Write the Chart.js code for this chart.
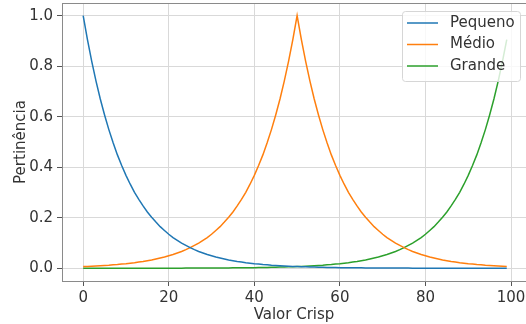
<!DOCTYPE html>
<html>
<head>
<meta charset="utf-8">
<script src="https://cdn.jsdelivr.net/npm/chart.js@4"></script>
<style>
  html, body { margin: 0; padding: 0; background: #fff; }
  #wrap { width: 526px; height: 324px; }
</style>
</head>
<body>
<div id="wrap"><canvas id="myChart" width="526" height="324"></canvas></div>
<script>
// valores crisp (eixo x)
var valores = [0,1,2,3,4,5,6,7,8,9,10,11,12,13,14,15,16,17,18,19,
  20,21,22,23,24,25,26,27,28,29,30,31,32,33,34,35,36,37,38,39,
  40,41,42,43,44,45,46,47,48,49,50,51,52,53,54,55,56,57,58,59,
  60,61,62,63,64,65,66,67,68,69,70,71,72,73,74,75,76,77,78,79,
  80,81,82,83,84,85,86,87,88,89,90,91,92,93,94,95,96,97,98,99];

var pequeno = [1.000,0.905,0.819,0.741,0.670,0.607,0.549,0.497,0.449,0.407,
  0.368,0.333,0.301,0.273,0.247,0.223,0.202,0.183,0.165,0.150,
  0.135,0.122,0.111,0.100,0.091,0.082,0.074,0.067,0.061,0.055,
  0.050,0.045,0.041,0.037,0.033,0.030,0.027,0.025,0.022,0.020,
  0.018,0.017,0.015,0.014,0.012,0.011,0.010,0.009,0.008,0.007,
  0.007,0.006,0.006,0.005,0.005,0.004,0.004,0.003,0.003,0.003,
  0.002,0.002,0.002,0.002,0.002,0.002,0.001,0.001,0.001,0.001,
  0.001,0.001,0.001,0.001,0.001,0.001,0.001,0.000,0.000,0.000,
  0.000,0.000,0.000,0.000,0.000,0.000,0.000,0.000,0.000,0.000,
  0.000,0.000,0.000,0.000,0.000,0.000,0.000,0.000,0.000,0.000];

var medio = [0.007,0.007,0.008,0.009,0.010,0.011,0.012,0.014,0.015,0.017,
  0.018,0.020,0.022,0.025,0.027,0.030,0.033,0.037,0.041,0.045,
  0.050,0.055,0.061,0.067,0.074,0.082,0.091,0.100,0.111,0.122,
  0.135,0.150,0.165,0.183,0.202,0.223,0.247,0.273,0.301,0.333,
  0.368,0.407,0.449,0.497,0.549,0.607,0.670,0.741,0.819,0.905,
  1.000,0.905,0.819,0.741,0.670,0.607,0.549,0.497,0.449,0.407,
  0.368,0.333,0.301,0.273,0.247,0.223,0.202,0.183,0.165,0.150,
  0.135,0.122,0.111,0.100,0.091,0.082,0.074,0.067,0.061,0.055,
  0.050,0.045,0.041,0.037,0.033,0.030,0.027,0.025,0.022,0.020,
  0.018,0.017,0.015,0.014,0.012,0.011,0.010,0.009,0.008,0.007];

var grande = [0.000,0.000,0.000,0.000,0.000,0.000,0.000,0.000,0.000,0.000,
  0.000,0.000,0.000,0.000,0.000,0.000,0.000,0.000,0.000,0.000,
  0.000,0.000,0.000,0.000,0.001,0.001,0.001,0.001,0.001,0.001,
  0.001,0.001,0.001,0.001,0.001,0.002,0.002,0.002,0.002,0.002,
  0.002,0.003,0.003,0.003,0.004,0.004,0.005,0.005,0.006,0.006,
  0.007,0.007,0.008,0.009,0.010,0.011,0.012,0.014,0.015,0.017,
  0.018,0.020,0.022,0.025,0.027,0.030,0.033,0.037,0.041,0.045,
  0.050,0.055,0.061,0.067,0.074,0.082,0.091,0.100,0.111,0.122,
  0.135,0.150,0.165,0.183,0.202,0.223,0.247,0.273,0.301,0.333,
  0.368,0.407,0.449,0.497,0.549,0.607,0.670,0.741,0.819,0.905];

var xTicks = [0, 20, 40, 60, 80, 100];
var yTicks = [0.0, 0.2, 0.4, 0.6, 0.8, 1.0];

function pontos(ys) {
  return valores.map(function (x, i) { return { x: x, y: ys[i] }; });
}

var fonte = "'DejaVu Sans', sans-serif";
Chart.defaults.font.family = fonte;
Chart.defaults.color = '#333';

// moldura superior + legenda dentro da área do gráfico
var extras = {
  id: 'extras',
  afterDraw: function (chart) {
    var c = chart.ctx, a = chart.chartArea;
    c.save();
    c.strokeStyle = '#8a8a8a';
    c.lineWidth = 1;
    c.beginPath();
    c.moveTo(a.left, a.top + 0.5);
    c.lineTo(a.right, a.top + 0.5);
    c.stroke();

    // legenda
    var bx = 402.5, by = 11.5, bw = 118, bh = 70, r = 3;
    c.fillStyle = 'rgba(255,255,255,0.8)';
    c.strokeStyle = '#d6d6d6';
    c.beginPath();
    c.moveTo(bx + r, by);
    c.arcTo(bx + bw, by, bx + bw, by + bh, r);
    c.arcTo(bx + bw, by + bh, bx, by + bh, r);
    c.arcTo(bx, by + bh, bx, by, r);
    c.arcTo(bx, by, bx + bw, by, r);
    c.closePath();
    c.fill();
    c.stroke();

    c.font = '15px ' + fonte;
    c.textBaseline = 'middle';
    c.textAlign = 'left';
    chart.data.datasets.forEach(function (ds, i) {
      var yy = 23 + i * 21.5;
      c.strokeStyle = ds.borderColor;
      c.lineWidth = 1.5;
      c.beginPath();
      c.moveTo(407, yy);
      c.lineTo(438, yy);
      c.stroke();
      c.fillStyle = '#333';
      c.fillText(ds.label, 450, yy);
    });
    c.restore();
  }
};

var ctx = document.getElementById('myChart').getContext('2d');
var chart = new Chart(ctx, {
  type: 'line',
  data: {
    datasets: [
      { label: 'Pequeno', data: pontos(pequeno), borderColor: '#1f77b4' },
      { label: 'Médio', data: pontos(medio), borderColor: '#ff7f0e' },
      { label: 'Grande', data: pontos(grande), borderColor: '#2ca02c' }
    ]
  },
  options: {
    responsive: false,
    animation: false,
    layout: { padding: { top: 3, right: 0, left: 0, bottom: 0 } },
    elements: {
      line: { borderWidth: 1.5, tension: 0, fill: false },
      point: { radius: 0 }
    },
    plugins: {
      legend: { display: false },
      tooltip: { enabled: false }
    },
    scales: {
      x: {
        type: 'linear',
        min: -4.95,
        max: 103.5,
        afterBuildTicks: function (s) { s.ticks = xTicks.map(function (v) { return { value: v }; }); },
        afterFit: function (s) { s.height = 43; s.paddingLeft = 0; s.paddingRight = 0; },
        ticks: { font: { size: 15 }, color: '#333', padding: 3, maxRotation: 0 },
        grid: { color: '#d9d9d9', tickColor: '#555', tickLength: 5 },
        border: { color: '#8a8a8a' },
        title: { display: true, text: 'Valor Crisp', font: { size: 15 }, color: '#333', padding: { top: 0, bottom: 0 } }
      },
      y: {
        type: 'linear',
        min: -0.05,
        max: 1.05,
        afterBuildTicks: function (s) { s.ticks = yTicks.map(function (v) { return { value: v }; }); },
        afterFit: function (s) { s.width = 62; s.paddingTop = 0; s.paddingBottom = 0; },
        ticks: {
          font: { size: 15 }, color: '#333', padding: 4,
          callback: function (v) { return Number(v).toFixed(1); }
        },
        grid: { color: '#d9d9d9', tickColor: '#555', tickLength: 5 },
        border: { color: '#8a8a8a' },
        title: { display: true, text: 'Pertinência', font: { size: 15 }, color: '#333', padding: { top: 12, bottom: 0 } }
      }
    }
  },
  plugins: [extras]
});
</script>
</body>
</html>
